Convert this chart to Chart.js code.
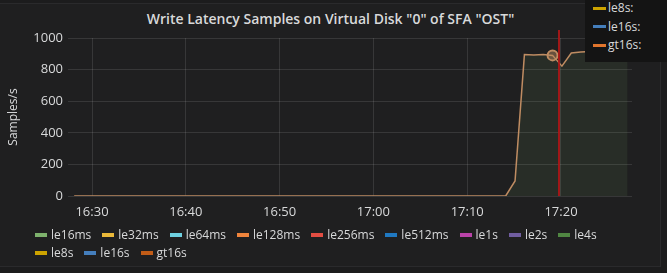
<!DOCTYPE html>
<html lang="en">
<head>
<meta charset="UTF-8">
<title>Write Latency Samples</title>
<script src="https://cdn.jsdelivr.net/npm/chart.js"></script>
<style>
    body {
        margin: 0;
        width: 667px;
        height: 273px;
        overflow: hidden;
        background-color: #1c1c1d;
        font-family: "Open Sans", sans-serif;
        color: #d8d9da;
    }
    .panel {
        position: absolute;
        left: -1px;
        top: 3px;
        width: 660px;
        height: 262px;
        border: 1px solid #2a2a2c;
        background-color: #1f1f20;
    }
    .title {
        position: absolute;
        left: 0;
        top: 9px;
        width: 661px;
        text-align: center;
        font-size: 14px;
        font-weight: 600;
        line-height: 20px;
    }
    canvas {
        position: absolute;
        left: 0;
        top: 0;
    }
    .legend {
        position: absolute;
        left: 35px;
        top: 226px;
        width: 600px;
        display: flex;
        flex-wrap: wrap;
        font-size: 12px;
        line-height: 18px;
    }
    .legend .item {
        display: flex;
        align-items: center;
        margin-right: 11px;
    }
    .legend .bar {
        width: 12px;
        height: 4px;
        margin-right: 4px;
    }
    .tooltip {
        position: absolute;
        left: 585px;
        top: -4px;
        width: 90px;
        height: 66px;
        background-color: #141414;
        font-size: 12px;
        line-height: 18.5px;
        padding-top: 3px;
        box-sizing: border-box;
    }
    .tooltip .row {
        display: flex;
        align-items: center;
        padding-left: 8px;
    }
    .tooltip .bar {
        width: 13px;
        height: 3px;
        margin-right: 2px;
    }
</style>
</head>
<body>
<div class="panel"></div>
<div class="title">Write Latency Samples on Virtual Disk "0" of SFA "OST"</div>
<canvas id="myChart" width="667" height="273"></canvas>
<div class="legend" id="legend"></div>
<div class="tooltip" id="tooltip"></div>

<script>
    // minutes after 16:00
    var times = [28.1, 74.1, 75.1, 76.1, 77.1, 78.1, 79.1, 80.1, 81.1, 82.1, 83.1, 84.1, 85.1, 86.1, 87.1];
    var samples = [0, 0, 95, 895, 893, 896, 890, 822, 905, 912, 914, 916, 913, 915, 914];
    var hoverIndex = 6;
    var markerTime = 79.8;

    var xTicks = [30, 40, 50, 60, 70, 80];
    var yTicks = [0, 200, 400, 600, 800, 1000];

    var seriesNames = ['le16ms', 'le32ms', 'le64ms', 'le128ms', 'le256ms', 'le512ms',
                       'le1s', 'le2s', 'le4s', 'le8s', 'le16s', 'gt16s'];
    var seriesColors = ['#7EB26D', '#EAB839', '#6ED0E0', '#EF843C', '#E24D42', '#1F78C1',
                        '#BA43A9', '#705DA0', '#508642', '#CCA300', '#447EBC', '#C15C17'];
    var tooltipNames = ['le8s:', 'le16s:', 'gt16s:'];
    var tooltipColors = ['#CCA300', '#447EBC', '#E0752D'];

    function formatTime(v) {
        var h = 16 + Math.floor(v / 60);
        var m = v % 60;
        return h + ':' + (m < 10 ? '0' + m : m);
    }

    // legend
    var legend = document.getElementById('legend');
    seriesNames.forEach(function (name, i) {
        var item = document.createElement('div');
        item.className = 'item';
        item.innerHTML = '<span class="bar" style="background:' + seriesColors[i] + '"></span>' + name;
        legend.appendChild(item);
    });

    // hover tooltip (cut off at the top like in the screenshot)
    var tooltip = document.getElementById('tooltip');
    tooltipNames.forEach(function (name, i) {
        var row = document.createElement('div');
        row.className = 'row';
        row.innerHTML = '<span class="bar" style="background:' + tooltipColors[i] + '"></span>' + name;
        tooltip.appendChild(row);
    });

    var markerLine = {
        id: 'markerLine',
        afterDatasetsDraw: function (chart) {
            var x = chart.scales.x.getPixelForValue(markerTime);
            var ctx = chart.ctx;
            ctx.save();
            ctx.strokeStyle = 'rgba(175, 22, 22, 0.9)';
            ctx.lineWidth = 2;
            ctx.beginPath();
            ctx.moveTo(Math.round(x), chart.chartArea.top - 8);
            ctx.lineTo(Math.round(x), chart.chartArea.bottom);
            ctx.stroke();
            ctx.restore();
        }
    };

    var gridColor = 'rgba(255, 255, 255, 0.11)';
    var ctx = document.getElementById('myChart').getContext('2d');
    var myChart = new Chart(ctx, {
        type: 'line',
        data: {
            datasets: [{
                label: 'le16ms',
                data: times.map(function (t, i) { return { x: t, y: samples[i] }; }),
                borderColor: '#bf8c62',
                backgroundColor: 'rgba(126, 178, 109, 0.1)',
                borderWidth: 1.5,
                fill: 'origin',
                tension: 0,
                pointRadius: function (c) { return c.dataIndex === hoverIndex ? 5 : 0; },
                pointBorderWidth: 2,
                pointBorderColor: '#bf8c62',
                pointBackgroundColor: 'rgba(191, 140, 98, 0.45)'
            }]
        },
        options: {
            responsive: false,
            animation: false,
            layout: {
                padding: { top: 38, right: 35, left: 0, bottom: 0 }
            },
            scales: {
                x: {
                    type: 'linear',
                    min: 27.44,
                    max: 87.57,
                    afterBuildTicks: function (scale) {
                        scale.ticks = xTicks.map(function (v) { return { value: v }; });
                    },
                    afterFit: function (scale) { scale.height = 77; },
                    grid: { color: gridColor, drawTicks: false },
                    border: { display: false },
                    ticks: {
                        color: '#d8d9da',
                        font: { family: 'Open Sans', size: 13 },
                        padding: 8,
                        maxRotation: 0,
                        callback: function (v) { return formatTime(v); }
                    }
                },
                y: {
                    min: 0,
                    max: 1000,
                    afterBuildTicks: function (scale) {
                        scale.ticks = yTicks.map(function (v) { return { value: v }; });
                    },
                    afterFit: function (scale) { scale.width = 68; },
                    grid: { color: gridColor, drawTicks: false },
                    border: { display: false },
                    title: {
                        display: true,
                        text: 'Samples/s',
                        color: '#d8d9da',
                        font: { family: 'Open Sans', size: 12 },
                        padding: { top: 6, bottom: 0 }
                    },
                    ticks: {
                        color: '#d8d9da',
                        font: { family: 'Open Sans', size: 13 },
                        padding: 5,
                        callback: function (v) { return String(v); }
                    }
                }
            },
            plugins: {
                legend: { display: false },
                tooltip: { enabled: false }
            }
        },
        plugins: [markerLine]
    });
</script>
</body>
</html>
